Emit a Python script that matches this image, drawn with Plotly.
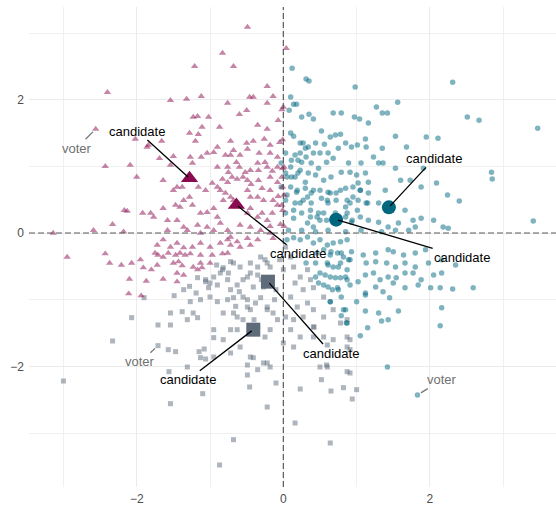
import plotly.graph_objects as go

# voters, grouped by the candidate marker they carry
magenta_voters = [
    (-0.49, 3.09), (-0.83, 2.70), (-0.68, 2.50), (-1.21, 2.50), (-2.40, 2.11), (-0.22, 2.20),
    (-1.54, 1.99), (-1.32, 2.01), (-1.12, 2.05), (-0.76, 1.95), (-0.46, 2.04), (-0.41, 2.04),
    (-0.14, 2.05), (-1.23, 1.74), (-1.17, 1.75), (-1.02, 1.74), (-0.60, 1.78), (-0.50, 1.84),
    (-0.22, 1.95), (-0.07, 1.69), (-2.56, 1.56), (-2.02, 1.41), (-1.84, 1.32), (-1.86, 1.29),
    (-1.28, 1.50), (-1.16, 1.48), (-1.11, 1.59), (-0.87, 1.59), (-0.35, 1.62), (-0.22, 1.56),
    (-1.20, 1.38), (-1.66, 1.38), (-0.90, 1.29), (-0.72, 1.38), (-0.50, 1.35), (-0.41, 1.38),
    (-0.26, 1.41), (-0.18, 1.32), (-0.05, 1.36), (-1.69, 1.12), (-1.50, 1.15), (-1.27, 1.14),
    (-1.12, 1.14), (-1.04, 1.20), (-0.95, 1.21), (-0.79, 1.17), (-0.72, 1.17), (-0.68, 1.24),
    (-0.49, 1.26), (-0.59, 1.17), (-0.33, 1.20), (-0.25, 1.06), (-0.18, 1.20), (-0.08, 1.14),
    (-2.43, 1.00), (-2.09, 1.02), (-1.54, 1.02), (-1.24, 1.05), (-0.90, 0.99), (-0.76, 0.99),
    (-0.75, 0.91), (-0.64, 1.06), (-0.60, 0.99), (-0.52, 0.91), (-0.45, 0.94), (-0.35, 1.05),
    (-0.34, 0.94), (-0.22, 0.99), (-0.15, 0.93), (-0.08, 0.99), (-0.01, 0.97), (-2.00, 0.84),
    (-0.97, 0.75), (-0.90, 0.69), (-0.83, 0.81), (-0.76, 0.76), (-0.70, 0.84), (-0.63, 0.81),
    (-0.55, 0.84), (-0.49, 0.79), (-0.44, 0.73), (-0.34, 0.79), (-0.29, 0.67), (-0.18, 0.84),
    (-0.08, 0.76), (-0.01, 0.69), (-1.64, 0.79), (-1.50, 0.64), (-1.45, 0.69), (-1.38, 0.69),
    (-1.16, 0.69), (-1.06, 0.64), (-0.86, 0.64), (-0.79, 0.60), (-0.72, 0.54), (-0.68, 0.49),
    (-0.49, 0.64), (-0.45, 0.54), (-0.35, 0.54), (-0.27, 0.49), (-0.18, 0.64), (-0.14, 0.49),
    (-0.07, 0.55), (-2.17, 0.34), (-2.13, 0.33), (-2.33, 0.13), (-1.92, 0.30), (-1.81, 0.30),
    (-1.77, 0.24), (-1.64, 0.37), (-1.47, 0.42), (-1.41, 0.39), (-1.36, 0.49), (-1.28, 0.54),
    (-1.24, 0.42), (-1.13, 0.30), (-1.04, 0.31), (-0.95, 0.37), (-0.90, 0.24), (-0.82, 0.49),
    (-0.49, 0.30), (-0.45, 0.37), (-0.35, 0.24), (-0.29, 0.30), (-0.22, 0.19), (-0.15, 0.30),
    (-0.08, 0.42), (-0.01, 0.34), (-1.58, 0.19), (-1.45, 0.19), (-3.14, 0.00), (-2.59, 0.04),
    (-2.18, 0.02), (-1.58, 0.04), (-1.31, 0.04), (-1.13, 0.00), (-0.95, 0.04), (-0.76, 0.04),
    (-1.36, 0.09), (-1.17, 0.12), (-1.04, 0.09), (-0.86, 0.15), (-0.59, 0.12), (-0.45, 0.09),
    (-0.31, 0.04), (-0.18, 0.10), (-0.04, 0.13), (0.04, 2.77), (0.00, 1.89), (-0.02, 1.85),
    (-0.01, 1.40), (0.01, 0.99), (-0.02, 0.84), (0.01, 0.57), (-0.02, 0.42), (0.01, 0.10),
    (-2.95, -0.36), (-2.43, -0.31), (-2.37, -0.45), (-2.21, -0.48), (-2.07, -0.45), (-1.95, -0.40),
    (-1.91, -0.52), (-1.80, -0.55), (-1.72, -0.48), (-1.75, -0.30), (-1.71, -0.33), (-1.64, -0.36),
    (-1.57, -0.30), (-1.47, -0.33), (-1.41, -0.30), (-1.34, -0.33), (-1.50, -0.45), (-1.43, -0.43),
    (-1.38, -0.49), (-1.23, -0.51), (-1.13, -0.45), (-1.11, -0.52), (-1.45, -0.60), (-1.36, -0.63),
    (-1.64, -0.69), (-1.87, -0.72), (-2.10, -0.69), (-1.45, -0.73), (-1.17, -0.55), (-2.11, -0.91),
    (-1.94, -0.94), (-1.13, -0.33), (-0.97, -0.33), (-0.83, -0.31), (-0.76, -0.30), (-1.72, -0.18),
    (-1.64, -0.10), (-1.54, -0.21), (-1.45, -0.15), (-1.36, -0.22), (-1.24, -0.21), (-1.13, -0.15),
    (-1.00, -0.21), (-0.86, -0.15), (-0.76, -0.10), (-0.72, -0.18), (-0.59, -0.21), (-0.45, -0.18),
    (-0.35, -0.10), (-1.27, -0.31), (-1.00, -0.45), (-0.72, -0.06), (-0.63, -0.13), (-0.49, -0.08),
    (-0.18, 0.00), (-0.14, -0.08),
]

teal_voters = [
    (0.12, 2.47), (0.31, 2.31), (0.35, 2.28), (0.98, 2.19), (2.31, 2.26), (0.10, 2.04),
    (0.14, 1.93), (0.18, 1.93), (0.08, 1.84), (1.56, 1.96), (1.27, 1.89), (1.35, 1.80),
    (1.42, 1.80), (0.68, 1.80), (0.79, 1.80), (0.25, 1.74), (0.35, 1.78), (0.41, 1.71),
    (0.97, 1.74), (1.04, 1.71), (1.16, 1.65), (2.51, 1.74), (2.67, 1.69), (3.47, 1.57),
    (0.10, 1.50), (0.14, 1.45), (0.52, 1.53), (0.64, 1.44), (0.71, 1.47), (0.78, 1.48),
    (1.12, 1.41), (1.53, 1.45), (1.95, 1.44), (2.11, 1.42), (0.27, 1.35), (0.34, 1.29),
    (0.44, 1.35), (0.56, 1.33), (0.75, 1.27), (0.85, 1.35), (0.93, 1.29), (1.01, 1.32),
    (1.13, 1.29), (1.35, 1.27), (1.68, 1.29), (0.03, 1.20), (0.16, 1.17), (0.23, 1.20),
    (0.31, 1.14), (0.41, 1.20), (0.50, 1.20), (0.61, 1.20), (0.68, 1.12), (1.23, 1.14),
    (1.30, 1.05), (1.36, 1.05), (1.06, 1.05), (0.89, 1.05), (-0.03, 1.05), (0.11, 1.09),
    (0.25, 1.06), (0.38, 1.05), (0.48, 0.97), (0.59, 1.06), (1.91, 0.97), (2.84, 0.91),
    (2.85, 0.81), (0.03, 0.90), (0.11, 0.84), (0.20, 0.90), (0.34, 0.90), (0.44, 0.87),
    (0.55, 0.79), (0.65, 0.84), (0.79, 0.91), (0.91, 0.91), (1.00, 0.87), (1.12, 0.90),
    (1.53, 0.97), (1.60, 0.79), (1.73, 0.79), (2.09, 0.75), (1.02, 0.75), (1.16, 0.76),
    (1.39, 0.64), (1.88, 0.69), (2.24, 0.57), (2.40, 0.48), (-0.03, 0.69), (0.10, 0.69),
    (0.18, 0.61), (0.30, 0.67), (0.38, 0.60), (0.50, 0.64), (0.61, 0.61), (0.72, 0.60),
    (0.85, 0.67), (0.95, 0.69), (1.05, 0.64), (1.16, 0.60), (0.03, 0.49), (0.16, 0.45),
    (0.27, 0.49), (0.38, 0.45), (0.52, 0.52), (0.61, 0.45), (0.72, 0.49), (0.85, 0.39),
    (0.91, 0.45), (1.02, 0.49), (1.13, 0.45), (1.30, 0.45), (1.66, 0.34), (1.77, 0.19),
    (1.88, 0.22), (2.05, 0.19), (2.18, 0.09), (2.25, 0.07), (3.41, 0.18), (0.03, 0.30),
    (0.14, 0.22), (0.25, 0.30), (0.37, 0.24), (0.48, 0.30), (0.59, 0.19), (0.71, 0.30),
    (0.85, 0.24), (0.93, 0.16), (1.05, 0.24), (1.16, 0.19), (1.30, 0.16), (1.43, 0.09),
    (1.57, 0.15), (1.71, 0.04), (1.80, 0.09), (0.07, 0.04), (0.25, 0.04), (0.44, 0.02),
    (0.61, 0.04), (0.85, 0.02), (1.06, 0.04), (1.34, 0.02), (1.53, 0.04),
    (0.23, 1.35), (0.30, 1.27), (0.20, 1.09), (0.10, 0.99), (0.05, 0.84), (0.16, 0.84),
    (0.23, 0.94), (0.30, 0.76), (0.19, 0.64), (0.33, 0.54), (0.41, 0.64), (0.05, 0.57),
    (0.23, 0.45), (0.14, 0.34), (0.37, 0.34), (0.46, 0.24), (0.55, 0.30), (0.33, 0.15),
    (0.41, 0.09), (0.50, 0.19), (0.60, 0.49), (0.64, 0.60), (0.78, 0.64), (0.87, 0.49),
    (0.95, 0.54), (1.05, 0.64), (1.15, 0.45), (1.01, 0.34), (0.87, 0.30), (0.94, 0.19),
    (0.65, -0.28), (0.79, -0.30), (0.93, -0.28), (1.09, -0.33), (1.26, -0.30), (1.43, -0.25),
    (1.50, -0.28), (1.64, -0.33), (1.80, -0.30), (1.94, -0.25), (0.31, -0.45), (0.44, -0.45),
    (0.61, -0.48), (0.75, -0.51), (0.89, -0.40), (1.13, -0.45), (1.26, -0.43), (1.41, -0.45),
    (1.53, -0.51), (1.66, -0.45), (1.80, -0.51), (1.98, -0.45), (2.16, -0.40), (2.35, -0.48),
    (0.44, -0.66), (0.57, -0.63), (0.71, -0.67), (0.85, -0.66), (1.02, -0.73), (1.12, -0.63),
    (1.23, -0.60), (1.32, -0.70), (1.43, -0.66), (1.54, -0.67), (1.66, -0.60), (1.77, -0.60),
    (1.88, -0.70), (2.05, -0.63), (2.16, -0.60), (0.48, -0.75), (0.61, -0.81), (0.75, -0.85),
    (0.91, -0.78), (1.12, -0.90), (1.26, -0.81), (1.36, -0.88), (1.50, -0.75), (1.66, -0.82),
    (1.84, -0.78), (2.01, -0.82), (2.14, -0.82), (2.31, -0.84), (2.59, -0.82), (0.64, -1.03),
    (0.79, -0.96), (1.00, -1.03), (1.12, -0.93), (1.45, -0.97), (1.57, -1.17), (0.85, -1.15),
    (1.12, -1.17), (1.30, -1.20), (1.43, -1.30), (1.34, -1.32), (1.15, -1.42), (0.86, -1.35),
    (0.79, -1.24), (2.16, -1.12), (2.14, -1.39), (1.05, -1.54), (1.42, -2.01), (1.83, -2.43),
    (0.05, -0.10), (0.14, -0.07), (0.23, -0.10), (0.33, -0.06), (0.41, -0.15), (0.50, -0.10),
    (0.60, -0.18), (0.68, -0.15), (0.78, -0.13), (0.87, -0.10), (0.55, -0.25), (0.46, -0.30),
    (0.64, -0.33), (0.74, -0.30), (0.82, -0.36), (0.91, -0.40), (0.60, -0.45), (0.68, -0.51),
    (0.78, -0.45), (0.87, -0.55), (0.50, -0.60), (0.64, -0.66), (0.78, -0.67), (0.87, -0.70),
    (0.55, -0.78), (0.67, -0.85), (0.74, -0.82), (0.64, -1.03), (0.82, -1.15), (0.87, -1.35),
]

gray_voters = [
    (-3.00, -2.22), (-2.33, -1.62), (-2.07, -1.27), (-1.90, -0.97), (-1.23, -1.20), (-1.71, -1.69),
    (-1.56, -2.08), (-1.15, -1.78), (-1.08, -1.74), (-1.06, -1.89), (-1.54, -2.56), (-1.10, -2.41),
    (-0.68, -3.10), (-0.87, -3.48), (-1.36, -0.85), (-1.49, -0.94), (-1.19, -0.90), (-0.49, -1.98),
    (-0.41, -1.87), (-0.46, -2.31), (-0.22, -2.61), (-0.22, -1.95), (-0.10, -2.25), (-0.31, -0.36),
    (-0.22, -0.45), (-0.49, -0.66), (-0.35, -0.63), (-0.27, -0.81), (-0.41, -0.81), (-0.49, -1.00),
    (-0.22, -1.11), (-0.14, -1.20), (-1.06, -0.73), (-0.91, -0.48), (-0.83, -0.55), (-0.68, -1.20),
    (-1.17, -0.67), (-1.06, -0.70), (-1.00, -0.75), (-1.02, -0.82), (-0.90, -0.78), (-0.86, -0.60),
    (-0.75, -0.60), (-0.76, -0.70), (-0.72, -0.85), (-0.63, -0.78), (-0.55, -0.70), (-0.45, -0.60),
    (-0.35, -0.51), (-0.25, -0.40), (-0.18, -0.51), (-0.45, -0.45), (-0.59, -0.51), (-0.68, -0.45),
    (-0.82, -0.52), (-0.72, -0.43), (-1.27, -1.03), (-1.13, -1.00), (-1.00, -0.96), (-0.90, -1.03),
    (-0.76, -1.00), (-0.68, -0.97), (-0.55, -0.96), (-0.49, -1.11), (-0.38, -1.05), (-0.31, -0.97),
    (-0.22, -1.15), (-1.54, -1.20), (-1.38, -1.18), (-1.71, -1.38), (-1.54, -1.38), (-1.31, -1.30),
    (-1.17, -1.27), (-0.95, -1.45), (-0.82, -1.60), (-0.72, -1.45), (-0.63, -1.26), (-0.55, -1.30),
    (-0.45, -1.15), (-0.35, -1.41), (-0.25, -1.56), (-0.08, -1.30), (-0.18, -1.45), (-0.95, -1.57),
    (-0.63, -1.45), (-1.57, -1.75), (-1.47, -1.78), (-1.31, -2.01), (-1.13, -1.87), (-0.95, -1.86),
    (-0.72, -1.80), (-0.59, -1.71), (-0.45, -1.86), (-0.27, -1.95), (-0.18, -2.01), (-0.49, -2.13),
    (-0.35, -2.05), (0.03, -0.21), (0.10, -0.36), (0.00, -0.55), (0.14, -0.51), (0.23, -0.66),
    (0.16, -0.75), (0.33, -0.55), (0.37, -0.70), (0.41, -0.82), (0.27, -0.85), (0.10, -0.96),
    (0.19, -1.11), (0.33, -1.05), (0.41, -1.15), (0.55, -0.96), (0.03, -1.26), (0.14, -1.30),
    (0.27, -1.26), (0.41, -1.41), (0.55, -1.26), (0.68, -1.15), (0.78, -1.35), (0.87, -1.30),
    (0.10, -1.45), (0.23, -1.56), (0.41, -1.56), (0.55, -1.56), (0.68, -1.60), (0.87, -1.56),
    (0.91, -1.60), (0.00, -1.65), (0.14, -1.71), (0.60, -1.68), (0.87, -1.71), (0.91, -1.75),
    (0.50, -2.01), (0.60, -2.01), (0.87, -2.08), (0.91, -2.10), (0.65, -2.37), (0.94, -2.49),
    (1.00, -2.35), (0.82, -2.32), (0.16, -2.85), (0.64, -3.15), (0.23, -2.34), (0.52, -2.20),
    (0.59, -1.98), (0.42, -1.41), (-0.95, -0.66), (-1.28, -0.80), (-0.60, -0.88), (-0.30, -0.70),
    (-0.10, -0.85), (-0.05, -0.40), (-0.12, -1.00), (-0.65, -1.10), (-0.82, -1.20), (-0.40, -1.30),
]

# candidate positions, same grouping
magenta_candidates = [(-1.28, 0.82), (-0.64, 0.42)]
teal_candidates = [(1.44, 0.385), (0.72, 0.20)]
gray_candidates = [(-0.21, -0.73), (-0.41, -1.45)]

# (point x, point y, label x, label y, text)
labels = [
    (-1.28, 0.82, -1.99, 1.53, "candidate"),
    (-0.64, 0.42, 0.20, -0.31, "candidate"),
    (1.44, 0.385, 2.06, 1.12, "candidate"),
    (0.72, 0.20, 2.44, -0.36, "candidate"),
    (-0.21, -0.73, 0.65, -1.80, "candidate"),
    (-0.41, -1.45, -1.30, -2.20, "candidate"),
    (-2.56, 1.56, -2.82, 1.27, "voter"),
    (-1.71, -1.69, -1.95, -1.93, "voter"),
    (1.83, -2.43, 2.17, -2.20, "voter"),
]

MAGENTA = "#8B0B50"
TEAL = "#00677F"
GRAY = "#5E6B7B"


def xs(points):
    return [p[0] for p in points]


def ys(points):
    return [p[1] for p in points]


def build_figure():
    fig = go.Figure()

    groups = [
        (gray_voters, gray_candidates, GRAY, "square", 5, 14),
        (teal_voters, teal_candidates, TEAL, "circle", 5.5, 14),
        (magenta_voters, magenta_candidates, MAGENTA, "triangle-up", 6.5, 15),
    ]
    for voters, cands, color, symbol, size, _ in groups:
        fig.add_trace(go.Scatter(
            x=xs(voters), y=ys(voters), mode="markers",
            marker=dict(color=color, symbol=symbol, size=size, opacity=0.5, line=dict(width=0)),
            hoverinfo="skip", showlegend=False,
        ))
    for voters, cands, color, symbol, _, csize in groups:
        fig.add_trace(go.Scatter(
            x=xs(cands), y=ys(cands), mode="markers",
            marker=dict(color=color, symbol=symbol, size=csize, line=dict(width=0)),
            hoverinfo="skip", showlegend=False,
        ))

    dashed = dict(color="#5a5a5a", width=1.2, dash="6px,3px")
    fig.add_shape(type="line", xref="paper", x0=0, x1=1, yref="y", y0=0, y1=0,
                  line=dashed, layer="above")
    fig.add_shape(type="line", yref="paper", y0=0, y1=1, xref="x", x0=0, x1=0,
                  line=dashed, layer="above")

    for px, py, lx, ly, text in labels:
        is_voter = text == "voter"
        fig.add_annotation(
            x=px, y=py, ax=lx, ay=ly, axref="x", ayref="y",
            text=text, showarrow=True, arrowhead=0, arrowwidth=1.3,
            arrowcolor="#777777" if is_voter else "black",
            standoff=4 if is_voter else 2,
            font=dict(size=13, color="#707070" if is_voter else "black"),
        )

    axis_common = dict(
        showgrid=True, gridcolor="#EBEBEB", gridwidth=1.1,
        zeroline=False, showline=False, ticks="",
        tickfont=dict(size=12, color="#4D4D4D"),
        dtick=2, tick0=0, automargin=False,
        minor=dict(dtick=1, showgrid=True, gridcolor="#F0F0F0", gridwidth=0.8),
    )
    fig.update_xaxes(range=[-3.47, 3.72], ticklabelstandoff=3, **axis_common)
    fig.update_yaxes(range=[-3.81, 3.39], ticklabelstandoff=4, **axis_common)

    fig.update_layout(
        width=556, height=505,
        margin=dict(l=29, r=0, t=7, b=18),
        plot_bgcolor="white", paper_bgcolor="white",
        font=dict(family="Liberation Sans, Arial, sans-serif"),
        showlegend=False,
    )
    return fig


fig = build_figure()
# the page body has a default 8px margin; drop it so the figure sits at 0,0
fig.write_html("out.html", config={"displayModeBar": False},
               post_script="document.body.style.margin='0px';")
